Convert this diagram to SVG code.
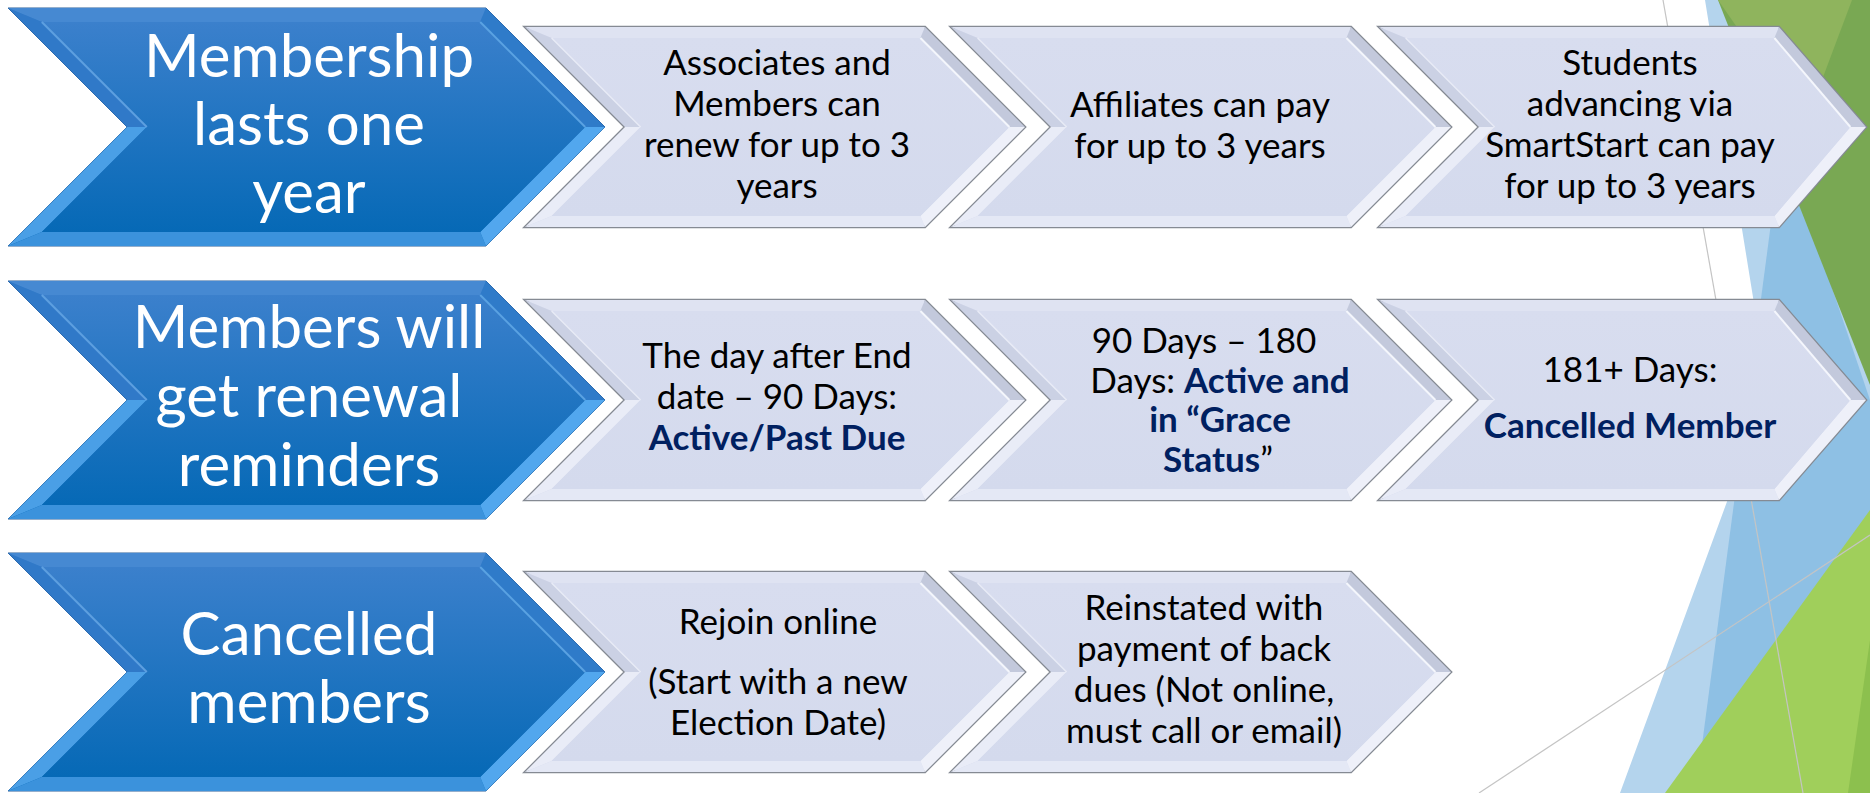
<svg xmlns="http://www.w3.org/2000/svg" xmlns:xlink="http://www.w3.org/1999/xlink" width="1870" height="793" viewBox="0 0 1870 793">
<style>
  .bt { font-family: Lato, "Liberation Sans", sans-serif; font-size: 60px; fill: #ffffff; text-anchor: middle; }
  .gt { font-family: Lato, "Liberation Sans", sans-serif; font-size: 35px; fill: #000000; text-anchor: middle; }
  .b { font-weight: bold; fill: #002060; }
  .bgline { stroke: #c4c4c4; stroke-width: 1.2; fill: none; }
</style>
<defs>
  <linearGradient id="blueGrad" x1="0" y1="0" x2="0" y2="1">
    <stop offset="0" stop-color="#3b80cc"/>
    <stop offset="1" stop-color="#0669b6"/>
  </linearGradient>
  <linearGradient id="grayGrad" x1="0" y1="0" x2="0" y2="1">
    <stop offset="0" stop-color="#d8ddef"/>
    <stop offset="1" stop-color="#d4daed"/>
  </linearGradient>
  <g id="blueShape">
    <polygon points="0,0 478,0 597,119 478,238 0,238 119,119" fill="url(#blueGrad)" stroke="#2a5f99" stroke-width="1"/>
    <polygon points="0,0 478,0 472.2,14 33.8,14" fill="#4689d2"/>
    <polygon points="0,0 33.8,14 138.8,119 119,119" fill="#3079c8"/>
    <polygon points="119,119 138.8,119 33.8,224 0,238" fill="#4a9fe6"/>
    <polygon points="0,238 33.8,224 472.2,224 478,238" fill="#3b92dc"/>
    <polygon points="597,119 478,238 472.2,224 577.2,119" fill="#52a7ee"/>
    <polygon points="478,0 597,119 577.2,119 472.2,14" fill="#2f7bc9"/>
    <polygon points="33.8,14 472.2,14 577.2,119 472.2,224 33.8,224 138.8,119" fill="url(#blueGrad)"/>
    <polyline points="33.8,14 138.8,119" stroke="#5d9fe0" stroke-width="2" fill="none"/>
    <polyline points="472.2,14 577.2,119" stroke="#5aa2e2" stroke-width="2" fill="none"/>
  </g>
  <g id="grayShape">
    <polygon points="0,0 400,0 500,100 400,200 0,200 100,100" fill="url(#grayGrad)" stroke="#858a93" stroke-width="2.5"/>
    <polygon points="0,0 400,0 395.4,11 26.6,11" fill="#dfe3f2"/>
    <polygon points="0,0 26.6,11 115.6,100 100,100" fill="#cbd1e4"/>
    <polygon points="100,100 115.6,100 26.6,189 0,200" fill="#e9ecf7"/>
    <polygon points="0,200 26.6,189 395.4,189 400,200" fill="#e4e8f5"/>
    <polygon points="500,100 400,200 395.4,189 484.4,100" fill="#eef0f9"/>
    <polygon points="400,0 500,100 484.4,100 395.4,11" fill="#c3c9dc"/>
    <polygon points="26.6,11 395.4,11 484.4,100 395.4,189 26.6,189 115.6,100" fill="url(#grayGrad)"/>
    <polyline points="395.4,11 484.4,100" stroke="#f4f6fc" stroke-width="2" fill="none"/>
    <polyline points="26.6,11 115.6,100" stroke="#e8ebf6" stroke-width="1.5" fill="none"/>
  </g>
  <g id="grayShapeEnd">
    <polygon points="0,0 400,0 487,100 400,200 0,200 100,100" fill="url(#grayGrad)" stroke="#858a93" stroke-width="2.5"/>
    <polygon points="0,0 400,0 395.4,11 26.6,11" fill="#dfe3f2"/>
    <polygon points="0,0 26.6,11 115.6,100 100,100" fill="#cbd1e4"/>
    <polygon points="100,100 115.6,100 26.6,189 0,200" fill="#e9ecf7"/>
    <polygon points="0,200 26.6,189 395.4,189 400,200" fill="#e4e8f5"/>
    <polygon points="487,100 400,200 395.4,189 471.4,100" fill="#eef0f9"/>
    <polygon points="400,0 487,100 471.4,100 395.4,11" fill="#c3c9dc"/>
    <polygon points="26.6,11 395.4,11 471.4,100 395.4,189 26.6,189 115.6,100" fill="url(#grayGrad)"/>
    <polyline points="395.4,11 471.4,100" stroke="#f4f6fc" stroke-width="2" fill="none"/>
    <polyline points="26.6,11 115.6,100" stroke="#e8ebf6" stroke-width="1.5" fill="none"/>
  </g>
</defs>

<rect width="1870" height="793" fill="#ffffff"/>

<g id="background">
  <polygon points="1705,0 1870,0 1870,793 1620,793 1768,390" fill="#b4d4ed"/>
  <polygon points="1782,140 1870,400 1870,540 1700,760" fill="#8ec0e4"/>
  <polygon points="1718,0 1870,0 1870,385" fill="#79a853"/>
  <polygon points="1718,0 1852,0 1805,125" fill="#8fb45d"/>
  <polygon points="1870,510 1870,793 1665,793" fill="#a0cf5b"/>
  <polygon points="1870,640 1870,793 1848,793" fill="#8cc04e"/>
  <line class="bgline" x1="1663" y1="0" x2="1803" y2="793"/>
  <line class="bgline" x1="1479" y1="793" x2="1870" y2="535"/>
</g>

<g id="connectors"></g>

<!-- Row 1 -->
<g id="node-membership">
  <use xlink:href="#blueShape" x="8" y="8"/>
  <text class="bt"><tspan x="309" y="77">Membership</tspan><tspan x="309" y="145">lasts one</tspan><tspan x="309" y="213">year</tspan></text>
</g>
<g id="node-associates">
  <use xlink:href="#grayShape" x="525" y="27"/>
  <text class="gt"><tspan x="777" y="75">Associates and</tspan><tspan x="777" y="116">Members can</tspan><tspan x="777" y="157">renew for up to 3</tspan><tspan x="777" y="198">years</tspan></text>
</g>
<g id="node-affiliates">
  <use xlink:href="#grayShape" x="951" y="27"/>
  <text class="gt"><tspan x="1200" y="117">Affiliates can pay</tspan><tspan x="1200" y="158">for up to 3 years</tspan></text>
</g>
<g id="node-students">
  <use xlink:href="#grayShapeEnd" x="1379" y="27"/>
  <text class="gt"><tspan x="1630" y="75">Students</tspan><tspan x="1630" y="116">advancing via</tspan><tspan x="1630" y="157">SmartStart can pay</tspan><tspan x="1630" y="198">for up to 3 years</tspan></text>
</g>

<!-- Row 2 -->
<g id="node-reminders">
  <use xlink:href="#blueShape" x="8" y="281"/>
  <text class="bt"><tspan x="309" y="348">Members will</tspan><tspan x="309" y="417">get renewal</tspan><tspan x="309" y="486">reminders</tspan></text>
</g>
<g id="node-pastdue">
  <use xlink:href="#grayShape" x="525" y="300"/>
  <text class="gt"><tspan x="777" y="368">The day after End</tspan><tspan x="777" y="409">date – 90 Days:</tspan><tspan x="777" y="450" class="b">Active/Past Due</tspan></text>
</g>
<g id="node-grace">
  <use xlink:href="#grayShape" x="951" y="300"/>
  <text class="gt"><tspan x="1204" y="353">90 Days – 180</tspan><tspan x="1220" y="393">Days: <tspan class="b">Active and</tspan></tspan><tspan x="1220" y="432" class="b">in “Grace</tspan><tspan x="1218" y="472" class="b">Status</tspan><tspan>”</tspan></text>
</g>
<g id="node-cancelledmember">
  <use xlink:href="#grayShapeEnd" x="1379" y="300"/>
  <text class="gt"><tspan x="1630" y="382">181+ Days:</tspan><tspan x="1630" y="438" class="b">Cancelled Member</tspan></text>
</g>

<!-- Row 3 -->
<g id="node-cancelled">
  <use xlink:href="#blueShape" x="8" y="553"/>
  <text class="bt"><tspan x="309" y="655">Cancelled</tspan><tspan x="309" y="723">members</tspan></text>
</g>
<g id="node-rejoin">
  <use xlink:href="#grayShape" x="525" y="572"/>
  <text class="gt"><tspan x="778" y="634">Rejoin online</tspan><tspan x="778" y="694">(Start with a new</tspan><tspan x="778" y="735">Election Date)</tspan></text>
</g>
<g id="node-reinstated">
  <use xlink:href="#grayShape" x="951" y="572"/>
  <text class="gt"><tspan x="1204" y="620">Reinstated with</tspan><tspan x="1204" y="661">payment of back</tspan><tspan x="1204" y="702">dues (Not online,</tspan><tspan x="1204" y="743">must call or email)</tspan></text>
</g>
</svg>
